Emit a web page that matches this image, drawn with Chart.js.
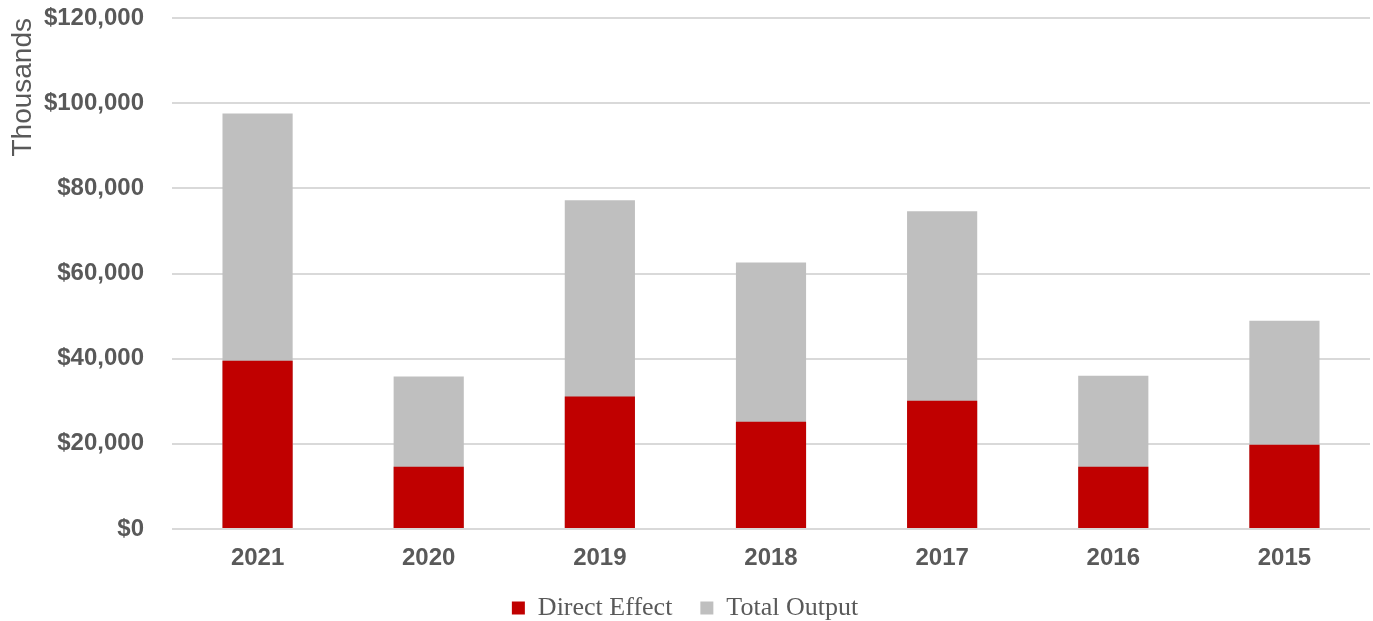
<!DOCTYPE html>
<html>
<head>
<meta charset="utf-8">
<script src="https://cdn.jsdelivr.net/npm/chart.js@4"></script>
<style>
  html, body { margin: 0; padding: 0; background: #fff; }
  #wrap { width: 1373px; height: 621px; }
</style>
</head>
<body>
<div id="wrap"><canvas id="barChart"></canvas></div>
<script>
const years = ['2021', '2020', '2019', '2018', '2017', '2016', '2015'];
const directEffect = [39500, 14600, 31100, 25200, 30100, 14600, 19800];
const totalOutput = [97600, 35800, 77200, 62600, 74600, 36000, 48900];

const ctx = document.getElementById('barChart').getContext('2d');

const barChart = new Chart(ctx, {
    type: 'bar',
    data: {
        labels: years,
        datasets: [{
            label: 'Direct Effect',
            data: directEffect,
            backgroundColor: '#c00000',
            borderWidth: 0,
            barPercentage: 0.41,
            categoryPercentage: 1
        }, {
            label: 'Total Output',
            data: totalOutput,
            backgroundColor: '#bfbfbf',
            borderWidth: 0,
            barPercentage: 0.41,
            categoryPercentage: 1
        }]
    },
    options: {
        responsive: true,
        maintainAspectRatio: false,
        animation: false,
        layout: { padding: { top: 0, right: 3, left: 0, bottom: -10 } },
        plugins: {
            legend: {
                position: 'bottom',
                labels: {
                    boxWidth: 13,
                    boxHeight: 13,
                    padding: 28,
                    color: '#595959',
                    font: { family: '"Liberation Serif", "DejaVu Serif", serif', size: 26 }
                }
            },
            tooltip: { enabled: false }
        },
        scales: {
            x: {
                stacked: true,
                grid: { display: false },
                border: { display: false },
                ticks: {
                    color: '#595959',
                    padding: 7,
                    font: { family: '"Liberation Sans", Arial, sans-serif', size: 24, weight: 'bold' }
                },
                afterFit: (scale) => { scale.height = 38; }
            },
            y: {
                stacked: false,
                min: 0,
                max: 120000,
                grid: { color: '#d9d9d9', lineWidth: 2, drawTicks: false },
                border: { display: false },
                title: {
                    display: true,
                    text: 'Thousands',
                    align: 'end',
                    color: '#595959',
                    padding: { top: 6, bottom: 4 },
                    font: { family: '"Liberation Sans", Arial, sans-serif', size: 28 }
                },
                ticks: {
                    stepSize: 20000,
                    color: '#595959',
                    padding: 28,
                    font: { family: '"Liberation Sans", Arial, sans-serif', size: 24, weight: 'bold' },
                    callback: (v) => '$' + v.toLocaleString('en-US')
                },
                afterFit: (scale) => {
                    scale.width = 172;
                    scale.paddingTop = 18;
                    scale.paddingBottom = 10;
                }
            }
        }
    }
});
</script>
</body>
</html>
